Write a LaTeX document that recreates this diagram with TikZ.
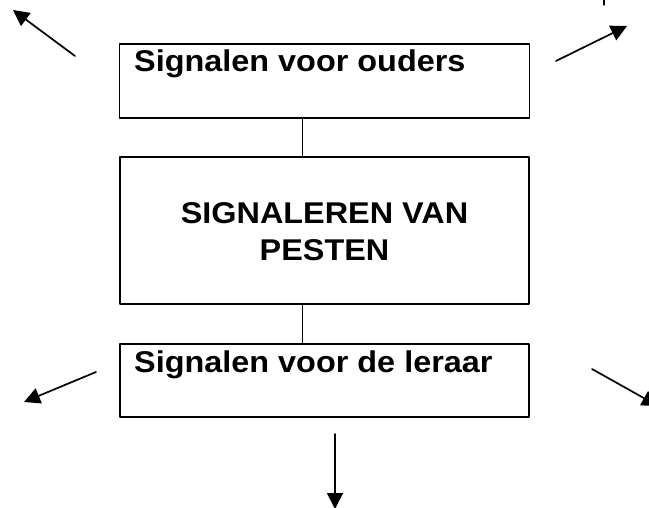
\documentclass[tikz,border=0pt]{standalone}
\usepackage{fontspec}
\setmainfont{Liberation Sans}
\usetikzlibrary{arrows.meta}
\newcommand{\wide}[1]{\scalebox{1.08}[1]{#1}}
\tikzset{
  box/.style={draw,line width=1.6pt,inner sep=0pt},
  lbl/.style={font=\fontsize{30}{37}\selectfont\bfseries,inner sep=0pt},
  pijl/.style={->,line width=1.7pt}
}
\begin{document}
\begin{tikzpicture}[line cap=round,line join=round,>={Triangle[length=16pt,width=16pt]},x=1pt,y=-1pt]
\useasboundingbox (0,0) rectangle (649,508);
\clip (0,0) rectangle (649,508);
% de drie kaders
\node[box,minimum width=410pt,minimum height=74pt] (ouders) at (324.5,81) {};
\node[box,minimum width=409pt,minimum height=147pt] (pesten) at (324.5,230.5) {};
\node[box,minimum width=409pt,minimum height=73pt] (leraar) at (324.5,380.5) {};
\node[lbl,anchor=base west] (tOuders) at (134,72) {\wide{Signalen voor ouders}};
\node[lbl,anchor=base] (tPesten1) at (324.5,224) {\wide{SIGNALEREN VAN}};
\node[lbl,anchor=base] (tPesten2) at (324.5,261) {\wide{PESTEN}};
\node[lbl,anchor=base west] (tLeraar) at (134,372) {\wide{Signalen voor de leraar}};
% verbindingen
\coordinate (lijn) at (302,0);
\draw[line width=1pt] (ouders.south -| lijn)--(pesten.north -| lijn);
\draw[line width=1pt] (pesten.south -| lijn)--(leraar.north -| lijn);
% pijlen
\coordinate (lbS) at (75,56);   \coordinate (lbE) at (13,10);
\coordinate (rbS) at (556,61);  \coordinate (rbE) at (627,26);
\coordinate (loS) at (96,372);  \coordinate (loE) at (24,402);
\coordinate (roS) at (592,369); \coordinate (roE) at (658,406);
\coordinate (oS) at (335,434);  \coordinate (oE) at (335,509);
\draw[pijl] (lbS)--(lbE);
\draw[pijl] (rbS)--(rbE);
\draw[pijl] (loS)--(loE);
\draw[pijl] (roS)--(roE);
\draw[pijl] (oS)--(oE);
\draw[line width=1.5pt] (604,0)--(604,5);
\end{tikzpicture}
\end{document}
